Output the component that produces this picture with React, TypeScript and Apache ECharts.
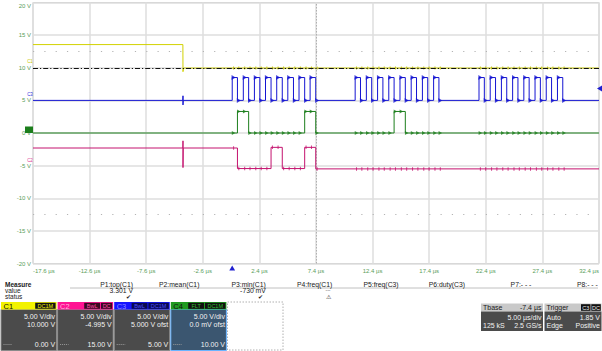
import React, { useEffect, useRef } from "react";
import * as echarts from "echarts";

// ---------- data (times in µs, values in displayed volts) ----------
const X_MIN_US = -17.6;
const X_MAX_US = 32.4;
const X_DIV_US = 5;
const Y_MIN_V = -20;
const Y_MAX_V = 20;
const Y_DIV_V = 5;

// clock (C3) edges, three bursts of 8 pulses
const clkRise = [
  0.0, 0.98, 1.96, 2.94, 3.93, 4.91, 5.9, 6.88,
  10.86, 11.85, 12.84, 13.83, 14.82, 15.81, 16.8, 17.79,
  21.8, 22.79, 23.78, 24.77, 25.76, 26.75, 27.74, 28.73,
];
const clkFall = [
  0.46, 1.45, 2.44, 3.43, 4.42, 5.41, 6.4, 7.38,
  11.33, 12.32, 13.31, 14.3, 15.29, 16.28, 17.27, 18.26,
  22.27, 23.26, 24.25, 25.24, 26.23, 27.22, 28.21, 29.2,
];
const c3Base = 5.0;
const c3High = 8.5;
const c3Glitch: [number, number][] = [[-4.36, 5.0], [-4.35, 5.7], [-4.35, 4.3], [-4.33, 5.0]];

const c1Trace: [number, number][] = [
  [-17.6, 13.55], [-4.36, 13.55], [-4.35, 9.4], [-4.3, 9.95], [32.4, 9.95],
];
const c2Trace: [number, number][] = [
  [-17.6, -2.3], [-4.36, -2.3], [-4.35, -1.2], [-4.35, -5.3], [-4.33, -2.3],
  [0.46, -2.3], [0.46, -5.45], [3.43, -5.45], [3.43, -2.2], [4.42, -2.2],
  [4.42, -5.45], [6.4, -5.45], [6.4, -2.2], [7.38, -2.2], [7.38, -5.5], [32.4, -5.5],
];
const c4Trace: [number, number][] = [
  [-17.6, 0], [0.46, 0], [0.46, 3.3], [1.45, 3.3], [1.45, 0], [6.4, 0], [6.4, 3.3],
  [7.38, 3.3], [7.38, 0], [14.3, 0], [14.3, 3.3], [15.29, 3.3], [15.29, 0], [32.4, 0],
];
const refLevelV = 10; // dash-dot reference line

// measurement table
const measLabels = ["P1:top(C1)", "P2:mean(C1)", "P3:min(C1)", "P4:freq(C1)", "P5:freq(C3)", "P6:duty(C3)", "P7:- - -", "P8:- - -"];
const measValues = ["3.301 V", "", "-730 mV", "", "", "", "", ""];
const measStatus = ["✔", "", "✔", "", "", "", "", ""];

// channel boxes
const chNames = ["C1", "C2", "C3", "C4"];
const chScale = ["5.00 V/div", "5.00 V/div", "5.00 V/div", "5.00 V/div"];
const chOffset = ["10.000 V", "-4.995 V", "5.000 V ofst", "0.0 mV ofst"];
const chBottom = ["0.00 V", "15.00 V", "5.00 V", "10.00 V"];
const chTags = [["DC1M"], ["BwL", "DC"], ["BwL", "DC1M"], ["FLT", "DC1M"]];

// ---------- styling ----------
const FONT = '"Liberation Sans", Arial, sans-serif';
const COL = {
  c1: "#d2d200",
  c2: "#c4126e",
  c3: "#1414d2",
  c4: "#1c7e1c",
  axis: "#5a9e5a",
  grid: "#dedede",
};
const hdr = [
  { bg: "#f2f200", name: "#111", tagBg: "#141414", tag: "#f2f200" },
  { bg: "#ff1493", name: "#ffb6dc", tagBg: "#3a0a22", tag: "#ff4aa6" },
  { bg: "#1515ff", name: "#8a8aff", tagBg: "#0a0a50", tag: "#4a4aff" },
  { bg: "#1f9a1f", name: "#111", tagBg: "#111", tag: "#2fc02f" },
];

const toX = (t: number) => +(t - X_MIN_US).toFixed(4);
const mapTrace = (tr: [number, number][]) => tr.map(([t, v]) => [toX(t), v]);

function buildClock(): [number, number][] {
  const pts: [number, number][] = [[X_MIN_US, c3Base], ...c3Glitch];
  clkRise.forEach((r, i) => {
    const f = clkFall[i];
    pts.push([r, c3Base], [r, c3High], [f, c3High], [f, c3Base]);
  });
  pts.push([X_MAX_US, c3Base]);
  return pts;
}
const c3Trace = buildClock();

function levelAt(tr: [number, number][], t: number) {
  let v = tr[0][1];
  for (const [x, y] of tr) if (x <= t) v = y;
  return v;
}
const edges = [...clkRise, ...clkFall].sort((a, b) => a - b);
const markersFor = (tr: [number, number][]) =>
  edges.map((e) => [toX(e + 0.12), levelAt(tr, e + 0.12)]);

function txt(x: number, y: number, text: string, o: any = {}) {
  const align = o.align || "left";
  return {
    type: "text",
    x,
    y,
    silent: true,
    z: 100,
    style: {
      text,
      fill: o.fill || "#1a1a1a",
      font: `${o.bold ? "bold " : ""}${o.size || 7}px ${FONT}`,
      textAlign: align,
      textVerticalAlign: "middle",
      align,
      verticalAlign: "middle",
    },
  };
}
function rect(x: number, y: number, w: number, h: number, fill: string, stroke?: string, dash?: number[]) {
  return {
    type: "rect",
    silent: true,
    z: 90,
    shape: { x, y, width: w, height: h },
    style: { fill, stroke: stroke || null, lineWidth: stroke ? 1 : 0, lineDash: dash || null },
  };
}

function buildGraphic() {
  const g: any[] = [];
  // left channel markers (kept just above the tick labels)
  g.push(txt(30, 61.5, "C1", { size: 4.5, fill: "#c8c800", align: "center" }));
  g.push(txt(30, 94.5, "C3", { size: 4.5, fill: "#3030e0", align: "center" }));
  g.push(rect(25, 126.5, 8, 6.5, COL.c4));
  g.push(txt(30, 160.5, "C2", { size: 4.5, fill: "#e0409a", align: "center" }));
  // trigger markers
  g.push({ type: "polygon", silent: true, z: 95, shape: { points: [[229.3, 270.5], [232.2, 265.5], [235.1, 270.5]] }, style: { fill: "#2020d0" } });
  g.push({ type: "polygon", silent: true, z: 95, shape: { points: [[602, 85.5], [597, 88.5], [602, 91.5]] }, style: { fill: "#2020d0" } });

  // measure table
  g.push(txt(5, 284.5, "Measure", { bold: true, size: 6.5 }));
  g.push(txt(5, 290.5, "value", { size: 6.5 }));
  g.push(txt(5, 296.5, "status", { size: 6.5 }));
  g.push({ type: "line", silent: true, z: 90, shape: { x1: 70, y1: 288, x2: 598, y2: 288 }, style: { stroke: "#c0c0c0", lineWidth: 1 } });
  measLabels.forEach((l, k) => {
    const xr = 133 + 66.4 * k;
    g.push(txt(xr, 284.5, l, { align: "right", size: 6.8 }));
    if (measValues[k]) g.push(txt(xr, 290.5, measValues[k], { align: "right", size: 6.8 }));
    if (measStatus[k]) g.push(txt(xr - 5, 296.5, measStatus[k], { align: "center", size: 6 }));
  });
  g.push(txt(328, 289.5, "---", { align: "center", size: 5, fill: "#555" }));
  g.push(txt(328, 296.5, "\u26A0\uFE0E", { align: "center", size: 5.5, fill: "#333" }));

  // channel boxes
  chNames.forEach((n, i) => {
    const x0 = 1 + i * 56.6;
    const w = 55.6;
    const h = hdr[i];
    const bodyFill = i === 3 ? "#3b5670" : "#4b4b4b";
    g.push(rect(x0, 309.5, w, 41, bodyFill, i === 3 ? "#6ab4ff" : "#8a8a8a"));
    g.push(rect(x0, 302, w, 7.5, h.bg));
    g.push(txt(x0 + 2.5, 306, n, { size: 7.5, fill: h.name }));
    let xr = x0 + w - 1;
    const tags = chTags[i];
    for (let k = tags.length - 1; k >= 0; k--) {
      const tw = tags[k].length * 4.6 + 2;
      g.push(rect(xr - tw, 302.8, tw, 6, h.tagBg));
      g.push(txt(xr - tw / 2, 306, tags[k], { size: 5.5, fill: h.tag, align: "center" }));
      xr -= tw + 1;
    }
    g.push(txt(x0 + w - 1.5, 316.5, chScale[i], { size: 7, fill: "#f2f2f2", align: "right" }));
    g.push(txt(x0 + w - 1.5, 324, chOffset[i], { size: 7, fill: "#f2f2f2", align: "right" }));
    g.push(txt(x0 + w - 1.5, 344, chBottom[i], { size: 7, fill: "#f2f2f2", align: "right" }));
    g.push({ type: "line", silent: true, z: 100, shape: { x1: x0 + 2.5, y1: 344.5, x2: x0 + 11, y2: 344.5 }, style: { stroke: "#9a9a9a", lineWidth: 1, lineDash: [1, 1] } });
  });
  g.push(rect(227.5, 302, 55.5, 48, "#ffffff", "#b0b0b0", [1.5, 1.5]));

  // timebase box
  g.push(rect(481, 303.5, 62, 8, "#c9c9c9"));
  g.push(rect(481, 311.5, 62, 19.5, "#4b4b4b"));
  g.push(txt(483, 307.5, "Tbase", { size: 7 }));
  g.push(txt(541.5, 307.5, "-7.4 µs", { size: 7, align: "right" }));
  g.push(txt(541.5, 317, "5.00 µs/div", { size: 7, align: "right", fill: "#f2f2f2" }));
  g.push(txt(483, 325.5, "125 kS", { size: 7, fill: "#f2f2f2" }));
  g.push(txt(541.5, 325.5, "2.5 GS/s", { size: 7, align: "right", fill: "#f2f2f2" }));
  // trigger box
  g.push(rect(544.5, 303.5, 57, 8, "#c9c9c9"));
  g.push(rect(544.5, 311.5, 57, 19.5, "#4b4b4b"));
  g.push(txt(546.5, 307.5, "Trigger", { size: 7 }));
  g.push(rect(581, 304.2, 9.5, 6.6, "#111"));
  g.push(txt(585.75, 307.5, "C3", { size: 5.5, fill: "#eee", align: "center" }));
  g.push(rect(591.3, 304.2, 9.5, 6.6, "#111"));
  g.push(txt(596.05, 307.5, "DC", { size: 5.5, fill: "#eee", align: "center" }));
  g.push(txt(546.5, 317, "Auto", { size: 7, fill: "#f2f2f2" }));
  g.push(txt(600, 317, "1.85 V", { size: 7, fill: "#f2f2f2", align: "right" }));
  g.push(txt(546.5, 325.5, "Edge", { size: 7, fill: "#f2f2f2" }));
  g.push(txt(600, 325.5, "Positive", { size: 7, fill: "#f2f2f2", align: "right" }));
  return g;
}

const lineSeries = (name: string, data: any[], color: string, z: number, extra: any = {}) => ({
  name,
  type: "line",
  data,
  showSymbol: false,
  symbol: "none",
  lineStyle: { color, width: 1 },
  silent: true,
  z,
  ...extra,
});
const markerSeries = (name: string, data: any[], color: string, symbol: string, size: any, rotate: number, z: number) => ({
  name,
  type: "scatter",
  data,
  symbol,
  symbolSize: size,
  symbolRotate: rotate,
  itemStyle: { color },
  silent: true,
  z,
});

const option: any = {
  animation: false,
  backgroundColor: "#ffffff",
  grid: { left: 33, right: 3, top: 2.5, bottom: 87.5, show: true, borderColor: "#c8c8c8", borderWidth: 1, backgroundColor: "transparent" },
  xAxis: {
    type: "value",
    min: 0,
    max: X_MAX_US - X_MIN_US,
    interval: X_DIV_US,
    axisLine: { show: false },
    axisTick: { show: false },
    splitLine: { show: true, lineStyle: { color: COL.grid, width: 1.5 } },
    axisLabel: {
      color: COL.axis,
      fontSize: 6,
      fontFamily: FONT,
      margin: 4,
      alignMinLabel: "left",
      alignMaxLabel: "right",
      formatter: (v: number) => `${(v + X_MIN_US).toFixed(1)} µs`,
    },
  },
  yAxis: {
    type: "value",
    min: Y_MIN_V,
    max: Y_MAX_V,
    interval: Y_DIV_V,
    axisLine: { show: false },
    axisTick: { show: false },
    splitLine: { show: true, lineStyle: { color: COL.grid, width: 1.5 } },
    axisLabel: {
      color: COL.axis,
      fontSize: 6,
      fontFamily: FONT,
      margin: 2,
      verticalAlignMaxLabel: "top",
      formatter: (v: number) => `${v} V`,
    },
  },
  series: [
    lineSeries("graticule", [], "#999", 1, {
      markLine: {
        silent: true,
        symbol: "none",
        label: { show: false },
        data: [
          { yAxis: 12.5, lineStyle: { color: "#b4b4b4", width: 1, type: [1.2, 10.12] } },
          { yAxis: -12.5, lineStyle: { color: "#b4b4b4", width: 1, type: [1.2, 10.12] } },
          { xAxis: toX(7.4), lineStyle: { color: "#b0b0b0", width: 1, type: [1.5, 1.5] } },
        ],
      },
    }),
    lineSeries("C1", mapTrace(c1Trace), COL.c1, 3, {
      markLine: {
        silent: true,
        symbol: "none",
        label: { show: false },
        z: 8,
        data: [{ yAxis: refLevelV, lineStyle: { color: "#111", width: 1, type: [5, 2, 1.2, 2] } }],
      },
    }),
    lineSeries("C3", mapTrace(c3Trace), COL.c3, 4),
    lineSeries("C4", mapTrace(c4Trace), COL.c4, 5),
    lineSeries("C2", mapTrace(c2Trace), COL.c2, 6),
    markerSeries("C3 marks", markersFor(c3Trace), COL.c3, "triangle", [5, 4], -90, 7),
    markerSeries("C4 marks", markersFor(c4Trace), COL.c4, "triangle", [4, 3.5], -90, 7),
    markerSeries("C2 marks", markersFor(c2Trace), COL.c2, "rect", [1, 3.5], 0, 7),
    markerSeries("C1 marks", markersFor(c1Trace), "#b8b800", "rect", [1, 3], 0, 7),
  ],
  graphic: buildGraphic(),
};

export default function App() {
  const ref = useRef<HTMLDivElement>(null);
  useEffect(() => {
    document.body.style.margin = "0";
    const chart = echarts.init(ref.current!, null, { renderer: "svg" });
    chart.setOption(option);
    return () => chart.dispose();
  }, []);
  return (
    <div
      ref={ref}
      style={{ position: "fixed", left: 0, top: 0, width: 602, height: 351, background: "#fff" }}
    />
  );
}
